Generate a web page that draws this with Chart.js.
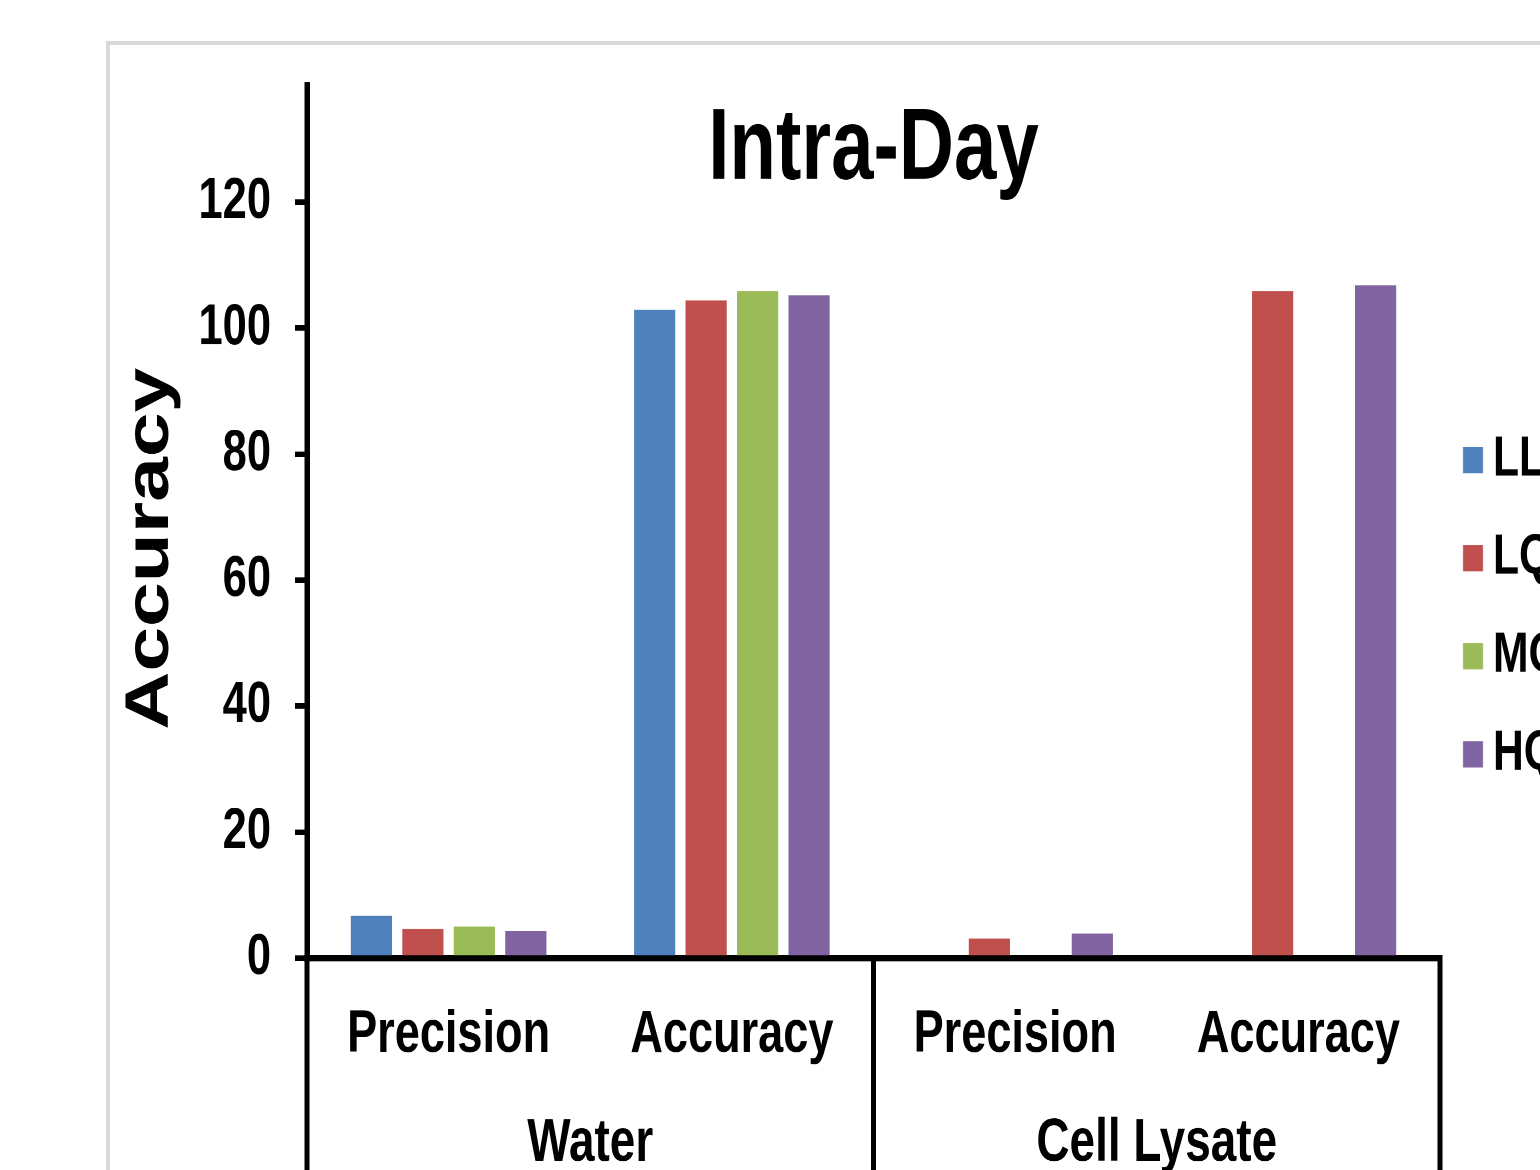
<!DOCTYPE html>
<html><head><meta charset="utf-8">
<script src="https://cdn.jsdelivr.net/npm/chart.js@4/dist/chart.umd.min.js"></script>
<style>
html,body{margin:0;padding:0;background:#fff;overflow:hidden;width:1540px;height:1170px;}
#wrap{position:absolute;left:0;top:0;width:1540px;height:1074px;transform:scaleY(1.089385);transform-origin:0 0;}
canvas{display:block;}
</style></head><body>
<div id="wrap"><canvas id="c" width="1540" height="1074"></canvas></div>
<script>
// ---- data ----
const chartTitle = 'Intra-Day';
const yAxisTitle = 'Accuracy';
const innerCategories = ['Precision', 'Accuracy', 'Precision', 'Accuracy'];
const outerCategories = ['Water', 'Cell Lysate'];
const seriesNames = ['LLOQ', 'LQC', 'MQC', 'HQC'];
const seriesColors = ['#4F81BD', '#C0504D', '#9BBB59', '#8064A2'];
const lloqValues = [6.7, 102.9, null, null];
const lqcValues = [4.6, 104.4, 3.1, 105.9];
const mqcValues = [5.0, 105.9, null, null];
const hqcValues = [4.3, 105.2, 3.9, 106.8];
const yTickValues = [0, 20, 40, 60, 80, 100, 120];
const yMax = 138.6;

// ---- styling ----
const S = 1170 / 1074;
const NARROW_K = 0.82;   // condensed lettering of the original
const WIDE_K = 1.2;      // widened lettering of the axis title
const WIDE_SHIFT = -25;  // axis title sits a little below the centre of the axis
const NARROW = '"Liberation Sans", NarrowFace, sans-serif';
const WIDE = '"Liberation Sans", WideFace, sans-serif';

const canvas = document.getElementById('c');
const ctx0 = canvas.getContext('2d');
const origFill = CanvasRenderingContext2D.prototype.fillText;
ctx0.fillText = function (text, x, y, maxWidth) {
  const f = this.font;
  let k = 1, dx = 0;
  if (f.indexOf('NarrowFace') >= 0) k = NARROW_K;
  else if (f.indexOf('WideFace') >= 0) { k = WIDE_K; dx = WIDE_SHIFT; }
  if (k !== 1) {
    this.save();
    this.translate(x + dx, y);
    this.scale(k, 1);
    if (maxWidth !== undefined) origFill.call(this, text, 0, 0, maxWidth / k);
    else origFill.call(this, text, 0, 0);
    this.restore();
  } else if (maxWidth !== undefined) {
    origFill.call(this, text, x, y, maxWidth);
  } else {
    origFill.call(this, text, x, y);
  }
};

function makeSwatch(color) {
  const c = document.createElement('canvas');
  c.width = 56; c.height = 24;
  const g = c.getContext('2d');
  g.fillStyle = color;
  g.fillRect(34, 0, 20, 24);
  return c;
}
const swatches = seriesColors.map(makeSwatch);

const allSeries = [lloqValues, lqcValues, mqcValues, hqcValues];
const datasets = allSeries.map((vals, i) => ({
  label: seriesNames[i],
  data: vals,
  backgroundColor: seriesColors[i],
  borderWidth: 0,
  xAxisID: 'x',
  yAxisID: 'y',
  categoryPercentage: 0.727,
  barPercentage: 0.8
}));

const layoutFix = {
  id: 'layoutFix',
  afterLayout(chart) {
    const lg = chart.legend;
    if (lg) {
      lg.left = 1409; lg.right = lg.left + lg.width;
      lg.top = 358.3; lg.height = 800; lg.bottom = lg.top + 800;
    }
    const t = chart.titleBlock;
    if (t) {
      const h = t.height;
      t.top = 101; t.bottom = t.top + h;
    }
  },
  beforeDraw(chart) {
    const ctx = chart.ctx;
    ctx.save();
    ctx.fillStyle = '#fff';
    ctx.fillRect(0, 0, chart.width, chart.height);
    ctx.strokeStyle = '#d9d9d9';
    ctx.lineWidth = 4;
    ctx.strokeRect(108, 43 / S, 3000, 3000);
    ctx.restore();
  }
};

new Chart(canvas, {
  type: 'bar',
  data: { labels: innerCategories, datasets },
  plugins: [layoutFix],
  options: {
    responsive: false,
    devicePixelRatio: 2,
    animation: false,
    layout: { padding: { left: 0, right: 100, top: 3.6, bottom: 0 } },
    plugins: {
      tooltip: { enabled: false },
      title: {
        display: true, text: chartTitle, position: 'top', fullSize: false, align: 'center',
        color: '#000',
        font: { family: NARROW, size: 93, weight: 'bold', lineHeight: 0.8 },
        padding: { top: 0, bottom: 0 }
      },
      legend: {
        position: 'chartArea', align: 'start',
        labels: {
          usePointStyle: true, pointStyleWidth: 20, boxHeight: 24,
          padding: 38, color: '#000',
          font: { family: NARROW, size: 52, weight: 'bold' },
          generateLabels(chart) {
            const items = Chart.defaults.plugins.legend.labels.generateLabels(chart);
            items.forEach(it => { it.pointStyle = swatches[it.datasetIndex]; });
            return items;
          }
        }
      }
    },
    scales: {
      y: {
        type: 'linear', position: 'left', min: 0, max: yMax,
        afterBuildTicks(s) { s.ticks = yTickValues.map(v => ({ value: v })); },
        grid: { drawOnChartArea: false, drawTicks: true, tickLength: 12, color: '#000', lineWidth: 5 },
        border: { display: true, color: '#000', width: 5.5 },
        ticks: { padding: 24, color: '#000', font: { family: NARROW, size: 53, weight: 'bold' } },
        title: {
          display: true, text: yAxisTitle, color: '#000',
          font: { family: WIDE, size: 61.5, weight: 'bold' },
          padding: { top: 114, bottom: 0 }
        },
        afterFit(s) { s.width = 307; }
      },
      x: {
        type: 'category', position: 'bottom', offset: true,
        grid: {
          display: true, drawOnChartArea: false, drawTicks: true, tickLength: 220, offset: true,
          color: c => (c.index === undefined || c.index % 2 === 0) ? '#000' : 'rgba(0,0,0,0)',
          lineWidth: 5
        },
        border: { display: true, color: '#000', width: 6 },
        ticks: { padding: -182, color: '#000', maxRotation: 0, autoSkip: false,
                 font: { family: NARROW, size: 55, weight: 'bold' } },
        afterFit(s) { s.height = 100; }
      },
      x2: {
        type: 'category', position: 'bottom', offset: true, labels: outerCategories,
        grid: { display: false, drawTicks: false },
        border: { display: false },
        ticks: { padding: 37, color: '#000', maxRotation: 0, autoSkip: false,
                 font: { family: NARROW, size: 56, weight: 'bold' } },
        afterFit(s) { s.height = 1074 - 879.4 - 100; }
      }
    }
  }
});
</script>
</body></html>
